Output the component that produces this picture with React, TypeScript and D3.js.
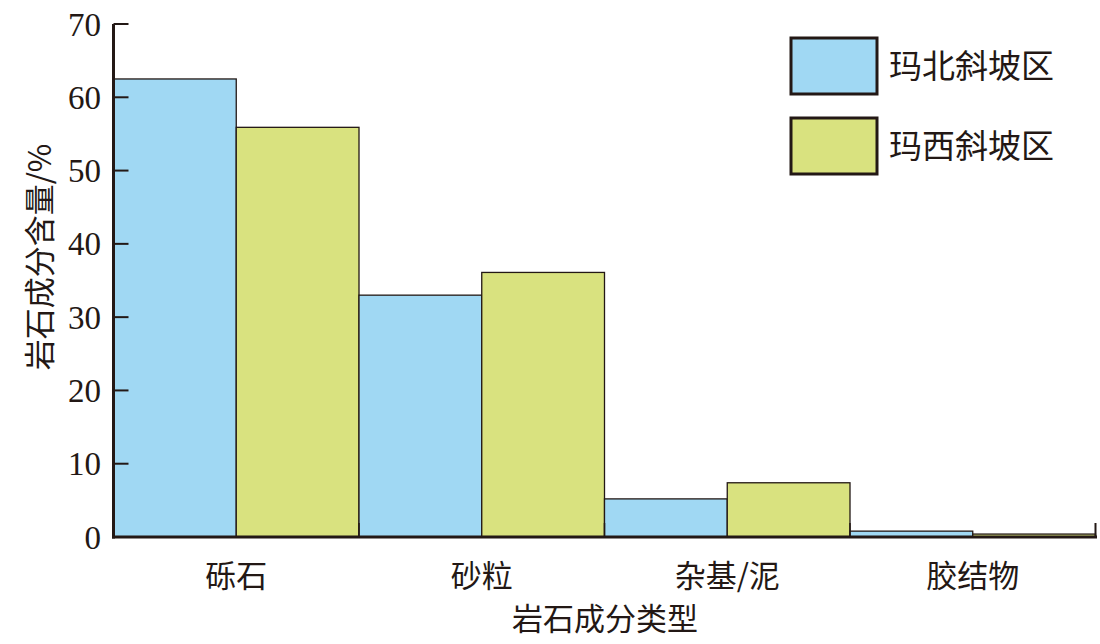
import React from "react";
import * as d3 from "d3";

const categories = ["砾石", "砂粒", "杂基/泥", "胶结物"];
const seriesNames = ["玛北斜坡区", "玛西斜坡区"];
const north = [62.5, 33.0, 5.2, 0.8];
const west = [55.9, 36.1, 7.4, 0.4];
const yTicks = [0, 10, 20, 30, 40, 50, 60, 70];
const colors = ["#a0d8f3", "#d9e27f"];

export default function App() {
  const W = 1100, H = 644;
  const x0 = 113.5, x1 = 1095.5, yTop = 24, yBottom = 537;
  const x = d3.scaleBand().domain(categories).range([x0, x1]).padding(0);
  const xs = d3.scaleBand().domain(seriesNames).range([0, x.bandwidth()]).padding(0);
  const y = d3.scaleLinear().domain([0, 70]).range([yBottom, yTop]);
  const data = [north, west];
  const serif = "'Liberation Serif', 'DejaVu Serif', serif";
  const cjk = "'Noto Sans CJK SC', sans-serif";
  return (
    <svg width={W} height={H} style={{ position: "absolute", left: 0, top: 0, background: "#fff" }}>
      {categories.map((c, i) =>
        data.map((s, j) => (
          <rect key={c + j}
            x={(x(c) as number) + (xs(seriesNames[j]) as number)}
            y={y(s[i])}
            width={xs.bandwidth()}
            height={yBottom - y(s[i])}
            fill={colors[j]} stroke="#231815" strokeWidth={1.3} />
        ))
      )}
      <line x1={x0} x2={x0} y1={y(70)} y2={yBottom + 1.5} stroke="#231815" strokeWidth={3} />
      {yTicks.map(t => (
        <g key={t}>
          {t > 0 && <line x1={x0} x2={x0 + 15} y1={y(t)} y2={y(t)} stroke="#231815" strokeWidth={2} />}
          <text x={101} y={y(t)} dy="0.35em" textAnchor="end" fontFamily={serif} fontSize={33} fill="#231815">{t}</text>
        </g>
      ))}
      <line x1={x0 - 1.5} x2={x1 + 1.5} y1={yBottom} y2={yBottom} stroke="#231815" strokeWidth={3} />
      {categories.slice(1).map(c => (
        <line key={"t" + c} x1={x(c) as number} x2={x(c) as number} y1={yBottom} y2={yBottom - 14} stroke="#231815" strokeWidth={1.5} />
      ))}
      <line x1={x1} x2={x1} y1={yBottom} y2={yBottom - 14} stroke="#231815" strokeWidth={2} />
      {categories.map(c => (
        <text key={"l" + c} x={(x(c) as number) + x.bandwidth() / 2} y={576} dy="0.35em" textAnchor="middle" fontFamily={cjk} fontSize={31} fill="#231815">{c}</text>
      ))}
      <text x={605} y={619} dy="0.35em" textAnchor="middle" fontFamily={cjk} fontSize={31} fill="#231815">岩石成分类型</text>
      <text transform="translate(40,257) rotate(-90)" dy="0.35em" textAnchor="middle" fontFamily={cjk} fontSize={31} fill="#231815">岩石成分含量/%</text>
      {seriesNames.map((n, j) => (
        <g key={n}>
          <rect x={791} y={38 + j * 80} width={86} height={56} fill={colors[j]} stroke="#231815" strokeWidth={3} />
          <text x={889} y={66 + j * 80} dy="0.35em" fontFamily={cjk} fontSize={33} fill="#231815">{n}</text>
        </g>
      ))}
    </svg>
  );
}
